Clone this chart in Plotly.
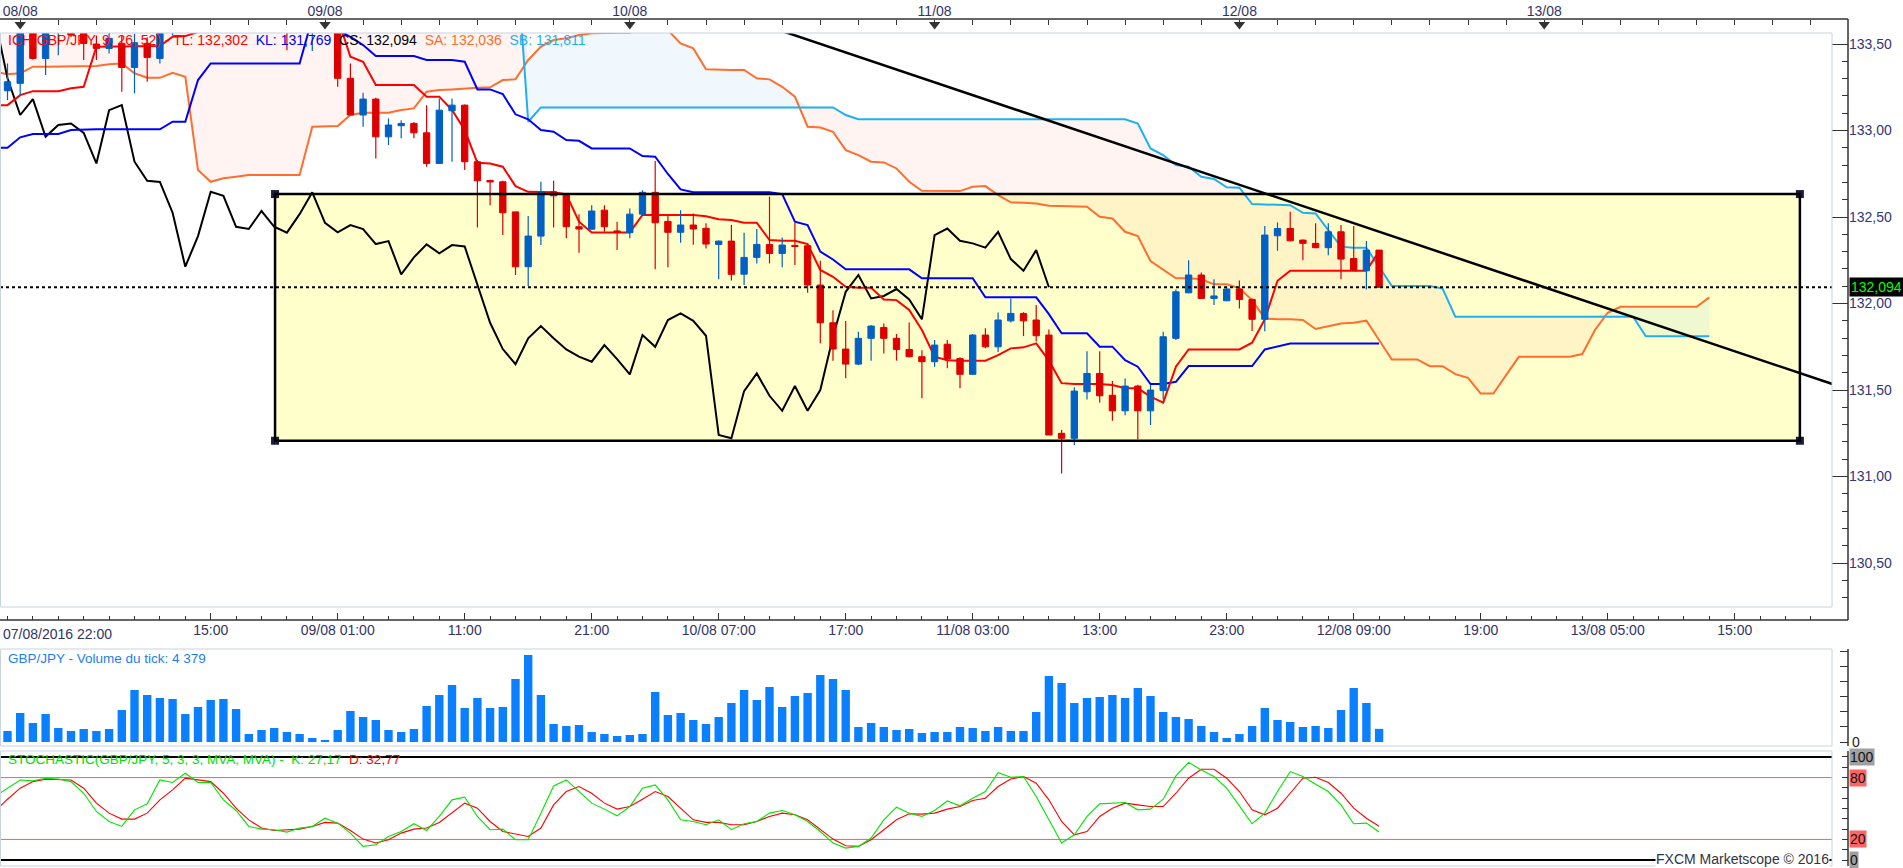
import pandas as pd
import plotly.graph_objects as go

W, H = 1903, 868
FONT = "Liberation Sans, Arial, sans-serif"

# GBP/JPY hourly bars, 07/08/2016 22:00 -> 12/08/2016 11:00
bar_times = pd.date_range("2016-08-07 22:00", periods=110, freq="h")
# Senkou spans are projected 26 bars past the last candle
cloud_times = pd.date_range("2016-08-07 22:00", periods=136, freq="h")

opens = [133.40, 133.230, 133.273, 133.62, 133.417, 133.60, 133.65, 133.562, 133.50, 133.475, 133.504, 133.365, 133.504, 133.417,
         133.62, 133.70, 133.76, 133.85, 133.80, 133.88, 133.84, 133.78, 133.70, 133.64, 133.60, 133.60, 133.70,
         133.65, 133.302, 133.09, 133.182, 132.964, 133.028, 133.041, 132.987, 132.81, 133.114,
         133.147, 132.82, 132.712, 132.704, 132.53, 132.213, 132.39, 132.646, 132.63, 132.444,
         132.43, 132.54, 132.42, 132.41, 132.517, 132.643, 132.475, 132.412, 132.454, 132.435,
         132.342, 132.361, 132.17, 132.267, 132.342, 132.29, 132.336, 132.334, 132.107, 131.889,
         131.737, 131.65, 131.799, 131.862, 131.799, 131.735, 131.693, 131.664, 131.765, 131.682,
         131.591, 131.818, 131.75, 131.90, 131.943, 131.905, 131.818, 131.25, 131.221, 131.49,
         131.596, 131.47, 131.38, 131.523, 131.38, 131.497, 131.799, 132.062, 132.165, 132.03,
         132.016, 132.084, 132.024, 131.909, 132.392, 132.434, 132.367, 132.348, 132.323, 132.415,
         132.26, 132.19, 132.309]
highs = [133.45, 133.388, 133.66, 133.66, 133.64, 133.68, 133.68, 133.60, 133.55, 133.58, 133.55, 133.56, 133.54, 133.60,
         133.78, 133.82, 133.90, 133.95, 133.92, 134.00, 133.93, 133.86, 133.78, 133.72, 133.70, 133.75, 133.78,
         133.68, 133.388, 133.219, 133.19, 133.07, 133.06, 133.05, 133.147, 133.186, 133.186,
         133.15, 132.83, 132.715, 132.71, 132.53, 132.506, 132.704, 132.71, 132.635, 132.517,
         132.569, 132.569, 132.473, 132.55, 132.655, 132.824, 132.506, 132.54, 132.52, 132.464,
         132.365, 132.454, 132.409, 132.431, 132.618, 132.382, 132.467, 132.335, 132.248, 131.962,
         131.899, 131.837, 131.875, 131.885, 131.824, 131.89, 131.73, 131.789, 131.79, 131.69,
         131.824, 131.857, 131.949, 132.03, 131.95, 131.991, 131.85, 131.27, 131.516, 131.725,
         131.725, 131.552, 131.567, 131.53, 131.529, 131.837, 132.082, 132.251, 132.18, 132.14,
         132.10, 132.133, 132.03, 132.448, 132.469, 132.531, 132.37, 132.464, 132.464, 132.454,
         132.448, 132.361, 132.31]
lows = [133.20, 133.176, 133.205, 133.41, 133.321, 133.436, 133.54, 133.408, 133.408, 133.446, 133.224, 133.215, 133.282, 133.388,
        133.55, 133.62, 133.70, 133.78, 133.74, 133.80, 133.75, 133.66, 133.58, 133.465, 133.58, 133.46, 133.58,
        133.253, 133.09, 133.022, 132.839, 132.916, 132.955, 132.955, 132.791, 132.81, 132.82,
        132.772, 132.44, 132.569, 132.396, 132.165, 132.101, 132.338, 132.44, 132.377, 132.294,
        132.43, 132.415, 132.309, 132.377, 132.51, 132.198, 132.21, 132.352, 132.34, 132.319,
        132.14, 132.133, 132.107, 132.232, 132.232, 132.21, 132.223, 132.063, 131.77, 131.67,
        131.568, 131.645, 131.67, 131.712, 131.67, 131.69, 131.452, 131.635, 131.626, 131.51,
        131.59, 131.741, 131.72, 131.89, 131.812, 131.78, 131.24, 131.018, 131.182, 131.446,
        131.427, 131.323, 131.355, 131.215, 131.298, 131.446, 131.79, 132.06, 132.03, 131.991,
        132.016, 131.972, 131.841, 131.84, 132.305, 132.36, 132.251, 132.32, 132.28, 132.14,
        132.19, 132.082, 132.094]
closes = [133.23, 133.282, 133.60, 133.417, 133.60, 133.65, 133.552, 133.504, 133.475, 133.533, 133.365, 133.508, 133.423, 133.562,
          133.70, 133.76, 133.85, 133.80, 133.88, 133.84, 133.78, 133.70, 133.64, 133.60, 133.66, 133.70, 133.65,
          133.302, 133.09, 133.182, 132.964, 133.032, 133.041, 132.987, 132.81, 133.118, 133.147,
          132.82, 132.71, 132.703, 132.525, 132.213, 132.39, 132.646, 132.623, 132.444, 132.431,
          132.535, 132.444, 132.41, 132.517, 132.643, 132.467, 132.412, 132.454, 132.431, 132.344,
          132.361, 132.169, 132.267, 132.342, 132.29, 132.338, 132.33, 132.107, 131.889, 131.737,
          131.65, 131.799, 131.87, 131.799, 131.735, 131.693, 131.664, 131.76, 131.679, 131.591,
          131.818, 131.75, 131.905, 131.943, 131.90, 131.814, 131.24, 131.221, 131.494, 131.596,
          131.467, 131.38, 131.523, 131.38, 131.50, 131.808, 132.068, 132.165, 132.03, 132.044,
          132.084, 132.024, 131.909, 132.396, 132.434, 132.363, 132.348, 132.323, 132.415, 132.257,
          132.19, 132.309, 132.094]

# Ichimoku(9, 26, 52) lines as drawn
tenkan = [133.147, 133.147, 133.205, 133.228, 133.228, 133.228, 133.244, 133.253, 133.485, 133.485, 133.485, 133.489, 133.489, 133.489,
          133.542, 133.546, 133.57, 133.60, 133.60, 133.60, 133.60, 133.60, 133.60, 133.60, 133.62, 133.65, 133.65,
          133.65, 133.427, 133.398, 133.263, 133.263, 133.263, 133.263, 133.196, 133.196, 133.119,
          133.003, 132.814, 132.810, 132.791, 132.679, 132.646, 132.646, 132.643, 132.631, 132.473,
          132.411, 132.411, 132.411, 132.411, 132.512, 132.512, 132.512, 132.512, 132.512, 132.505,
          132.487, 132.483, 132.467, 132.467, 132.367, 132.363, 132.363, 132.344, 132.194, 132.155,
          132.097, 132.092, 132.092, 132.024, 132.020, 131.963, 131.847, 131.693, 131.673, 131.670,
          131.670, 131.670, 131.702, 131.741, 131.747, 131.770, 131.670, 131.540, 131.535, 131.535,
          131.535, 131.529, 131.510, 131.510, 131.462, 131.427, 131.635, 131.735, 131.735, 131.735,
          131.735, 131.735, 131.774, 131.909, 132.132, 132.190, 132.190, 132.190, 132.190, 132.190,
          132.190, 132.190, 132.302]
kijun = [132.901, 132.901, 132.961, 132.980, 132.980, 132.980, 133.003, 133.007, 133.007, 133.007, 133.007, 133.007, 133.007, 133.007,
         133.051, 133.051, 133.292, 133.388, 133.388, 133.388, 133.388, 133.388, 133.388, 133.388, 133.388, 133.65, 133.65,
         133.58, 133.542, 133.494, 133.431, 133.431, 133.431, 133.431, 133.408, 133.408, 133.408,
         133.398, 133.238, 133.238, 133.211, 133.094, 133.065, 133.003, 132.993, 132.945, 132.941,
         132.897, 132.897, 132.897, 132.897, 132.853, 132.849, 132.749, 132.660, 132.643, 132.643,
         132.643, 132.643, 132.643, 132.643, 132.643, 132.633, 132.473, 132.454, 132.300, 132.255,
         132.198, 132.198, 132.198, 132.198, 132.198, 132.198, 132.146, 132.146, 132.146, 132.146,
         132.146, 132.036, 132.036, 132.036, 132.036, 132.036, 131.939, 131.828, 131.828, 131.828,
         131.751, 131.751, 131.673, 131.635, 131.535, 131.535, 131.548, 131.639, 131.639, 131.639,
         131.639, 131.639, 131.639, 131.735, 131.751, 131.769, 131.769, 131.769, 131.769, 131.769,
         131.769, 131.769, 131.769]
senkou_a = [133.34, 133.325, 133.331, 133.369, 133.369, 133.369, 133.369, 133.369, 133.373, 133.383, 133.388, 133.331, 133.305, 133.305,
            133.334, 133.311, 132.772, 132.704, 132.724, 132.733, 132.743, 132.743, 132.743, 132.743, 132.743, 133.022, 133.026,
            133.026, 133.090, 133.103, 133.103, 133.103, 133.119, 133.128, 133.225, 133.234, 133.238,
            133.244, 133.248, 133.250, 133.292, 133.296, 133.408, 133.485, 133.523, 133.533, 133.552,
            133.562, 133.566, 133.566, 133.566, 133.60, 133.61, 133.58, 133.504, 133.475, 133.354,
            133.350, 133.350, 133.350, 133.302, 133.296, 133.253, 133.196, 133.022, 133.018, 132.993,
            132.887, 132.858, 132.820, 132.816, 132.781, 132.704, 132.652, 132.650, 132.650, 132.650,
            132.675, 132.679, 132.627, 132.585, 132.583, 132.579, 132.566, 132.564, 132.560, 132.560,
            132.502, 132.492, 132.415, 132.390, 132.246, 132.198, 132.146, 132.146, 132.140, 132.111,
            132.111, 132.088, 132.020, 131.914, 131.909, 131.909, 131.905, 131.853, 131.870, 131.885,
            131.889, 131.901, 131.789, 131.677, 131.677, 131.677, 131.638, 131.638, 131.592, 131.571,
            131.480, 131.480, 131.586, 131.692, 131.692, 131.692, 131.692, 131.692, 131.708, 131.847,
            131.947, 131.981, 131.981, 131.981, 131.981, 131.981, 131.981, 131.981, 132.036]
senkou_b = [134.10, 134.10, 134.10, 134.10, 134.10, 134.10, 134.10, 134.10, 134.10, 134.10, 134.10, 134.10, 134.10, 134.10,
            134.10, 134.10, 134.10, 134.10, 134.10, 134.10, 134.10, 134.10, 134.10, 134.10, 134.10, 134.10, 134.10,
            134.10, 134.10, 134.10, 134.10, 134.10, 134.10, 134.10, 134.10, 134.10, 134.10,
            134.10, 134.10, 134.10, 134.10, 134.10, 133.051, 133.134, 133.134, 133.134, 133.134,
            133.134, 133.134, 133.134, 133.134, 133.134, 133.134, 133.134, 133.134, 133.134, 133.134,
            133.134, 133.134, 133.134, 133.134, 133.134, 133.134, 133.134, 133.134, 133.134, 133.134,
            133.090, 133.065, 133.065, 133.065, 133.065, 133.065, 133.065, 133.065, 133.065, 133.065,
            133.065, 133.065, 133.065, 133.065, 133.065, 133.065, 133.065, 133.065, 133.065, 133.065,
            133.065, 133.065, 133.065, 133.041, 132.897, 132.858, 132.801, 132.791, 132.733, 132.720,
            132.672, 132.670, 132.575, 132.573, 132.573, 132.569, 132.525, 132.521, 132.425, 132.329,
            132.323, 132.323, 132.213, 132.101, 132.101, 132.101, 132.101, 132.087, 131.924, 131.924,
            131.924, 131.924, 131.924, 131.924, 131.924, 131.924, 131.924, 131.924, 131.924, 131.924,
            131.924, 131.924, 131.924, 131.811, 131.811, 131.811, 131.811, 131.811, 131.811]

volumes = [4000, 3663, 9657, 6327, 9324, 4662, 3663, 4329, 3663, 4329, 10656, 17316, 15651, 14652,
           14319, 9324, 11655, 13986, 14319, 10989, 2664, 3996, 4662, 3330, 2664, 1332, 666,
           3996, 10323, 8325, 7326, 3996, 3330, 4329, 11988, 15651, 18981,
           11322, 14652, 11322, 11655, 20979, 28971, 15651, 5994, 5328, 5661,
           3330, 2664, 1998, 2331, 2664, 16650, 8991, 9657, 7326, 5994,
           8325, 12987, 17316, 13986, 18315, 11655, 15318, 16317, 22311, 20979,
           17316, 4995, 6327, 4995, 3996, 4329, 2997, 3330, 3330, 4995,
           4662, 3663, 4995, 3663, 3663, 9990, 21978, 19647, 12987, 14652,
           14985, 15651, 14652, 17982, 15318, 9990, 8325, 7659, 5328, 3330,
           1332, 2664, 5328, 11322, 7326, 6660, 4995, 5328, 4662, 10656,
           17982, 12987, 4379]

stoch_k = [61.6, 69.7, 77.7, 76.8, 79.4, 78.7, 76.1, 64.8, 47.1, 37.4, 32.6, 48.7, 54.5, 77.7,
           75.2, 84.2, 75.2, 75.2, 58.4, 48.1, 32.6, 30.0, 29.4, 27.1, 31.0, 32.6, 40.6,
           35.8, 26.1, 13.2, 14.8, 22.9, 27.7, 35.2, 28.7, 42.3, 58.4,
           61.0, 42.3, 29.4, 30.0, 19.7, 19.7, 45.5, 71.9, 77.7, 66.5,
           55.2, 49.4, 42.9, 51.9, 69.7, 72.9, 58.4, 39.0, 37.4, 34.2,
           39.0, 29.4, 35.2, 37.4, 45.5, 48.1, 43.9, 37.4, 27.7, 16.5,
           11.6, 13.2, 21.3, 39.0, 51.3, 45.5, 42.3, 48.1, 57.3, 52.6,
           60.0, 66.5, 84.8, 80.3, 81.0, 61.6, 39.0, 16.5, 24.5, 42.3,
           54.5, 55.2, 55.8, 48.7, 49.4, 59.0, 81.6, 94.8, 87.4, 81.0,
           69.7, 52.6, 35.2, 45.5, 66.5, 85.8, 81.0, 73.5, 66.5, 53.5,
           35.2, 35.8, 27.17]
stoch_d = [47.0, 59.0, 69.7, 76.1, 78.4, 78.4, 77.7, 69.7, 55.2, 45.5, 39.7, 39.7, 45.5, 58.4,
           68.1, 79.4, 77.7, 76.1, 64.8, 50.3, 39.0, 31.0, 28.7, 29.4, 30.0, 32.6, 36.5,
           35.8, 28.7, 20.3, 16.5, 19.7, 26.1, 30.0, 31.0, 36.5, 45.5,
           55.2, 50.3, 37.4, 27.7, 25.5, 22.9, 31.0, 53.5, 66.5, 71.3,
           64.8, 55.2, 49.4, 51.9, 59.0, 66.5, 61.6, 50.3, 39.0, 36.5,
           36.5, 34.2, 34.2, 37.4, 42.3, 45.5, 43.9, 39.0, 29.4, 20.3,
           13.9, 13.2, 19.7, 29.4, 39.0, 44.8, 44.5, 45.5, 49.4, 51.9,
           57.7, 60.0, 71.3, 78.7, 81.0, 74.5, 58.4, 37.4, 24.5, 27.7,
           42.3, 50.3, 55.2, 53.5, 51.9, 51.9, 64.8, 79.4, 88.1, 88.1,
           79.4, 66.5, 48.7, 43.9, 50.3, 64.8, 79.4, 80.3, 75.2, 64.8,
           50.3, 40.6, 32.77]
stoch_levels = [100, 80, 20, 0]

# drawing objects placed on the chart
box_times = [pd.Timestamp("2016-08-08 20:04"), pd.Timestamp("2016-08-13 20:08")]
box_prices = [131.207, 132.633]
trend_times = [pd.Timestamp("2016-08-10 06:00"), pd.Timestamp("2016-08-14 02:00")]
trend_prices = [133.723, 131.453]

# axis labels
day_ticks = pd.date_range("2016-08-08", periods=6, freq="D")
day_labels = ["08/08", "09/08", "10/08", "11/08", "12/08", "13/08"]
time_ticks = pd.to_datetime(["2016-08-08 05:00", "2016-08-08 15:00", "2016-08-09 01:00", "2016-08-09 11:00",
                             "2016-08-09 21:00", "2016-08-10 07:00", "2016-08-10 17:00", "2016-08-11 03:00",
                             "2016-08-11 13:00", "2016-08-11 23:00", "2016-08-12 09:00", "2016-08-12 19:00",
                             "2016-08-13 05:00", "2016-08-13 15:00"])
time_labels = ["", "15:00", "09/08 01:00", "11:00", "21:00", "10/08 07:00", "17:00", "11/08 03:00",
               "13:00", "23:00", "12/08 09:00", "19:00", "13/08 05:00", "15:00"]
first_time_label = "07/08/2016 22:00"


def comma(v, nd):
    return f"{v:.{nd}f}".replace(".", ",")


# pixel layout of the reference screen
def px_x(p):
    return p / W


def px_y(p):
    return 1 - p / H


PLOT_R, AXIS_X = 1832, 1848
origin = pd.Timestamp("2016-08-09 00:00")
hour_px, origin_px = 12.7, 325
x_range = [origin + pd.Timedelta(hours=-origin_px / hour_px),
           origin + pd.Timedelta(hours=(PLOT_R - origin_px) / hour_px)]

UP, DOWN = "#0060C4", "#DD0000"
fig = go.Figure()

# cloud fills
cloud_top = [max(a, b) for a, b in zip(senkou_a, senkou_b)]
fig.add_trace(go.Scatter(x=cloud_times, y=senkou_a, mode="lines", line=dict(width=0), hoverinfo="skip"))
fig.add_trace(go.Scatter(x=cloud_times, y=cloud_top, mode="lines", line=dict(width=0), fill="tonexty",
                         fillcolor="rgba(255,190,170,0.17)", hoverinfo="skip"))
fig.add_trace(go.Scatter(x=cloud_times, y=senkou_b, mode="lines", line=dict(width=0), hoverinfo="skip"))
fig.add_trace(go.Scatter(x=cloud_times, y=cloud_top, mode="lines", line=dict(width=0), fill="tonexty",
                         fillcolor="rgba(120,190,235,0.11)", hoverinfo="skip"))

fig.add_trace(go.Scatter(x=cloud_times, y=senkou_a, mode="lines", line=dict(color="#FF6E2E", width=2)))
fig.add_trace(go.Scatter(x=cloud_times, y=senkou_b, mode="lines", line=dict(color="#1EB0F0", width=2)))
chikou_times = bar_times - pd.Timedelta(hours=26)
fig.add_trace(go.Scatter(x=chikou_times, y=closes, mode="lines", line=dict(color="black", width=2)))
fig.add_trace(go.Scatter(x=bar_times, y=kijun, mode="lines", line=dict(color="#0000FF", width=2)))
fig.add_trace(go.Scatter(x=bar_times, y=tenkan, mode="lines", line=dict(color="#FF0000", width=2)))

# candles
half = pd.Timedelta(minutes=15)
for rising, color in [(True, UP), (False, DOWN)]:
    bx, by, wx, wy = [], [], [], []
    for t, o, hi, lo, c in zip(bar_times, opens, highs, lows, closes):
        if (c >= o) != rising:
            continue
        wx += [t, t, None]
        wy += [lo, hi, None]
        bx += [t - half, t + half, t + half, t - half, t - half, None]
        by += [o, o, c, c, o, None]
    fig.add_trace(go.Scatter(x=wx, y=wy, mode="lines", line=dict(color=color, width=1.2)))
    fig.add_trace(go.Scatter(x=bx, y=by, mode="lines", fill="toself", fillcolor=color,
                             line=dict(color=color, width=1)))

fig.add_trace(go.Scatter(x=trend_times, y=trend_prices, mode="lines", line=dict(color="black", width=2.5)))
fig.add_trace(go.Scatter(x=[box_times[0], box_times[1], box_times[0], box_times[1]],
                         y=[box_prices[1], box_prices[1], box_prices[0], box_prices[0]],
                         mode="markers", marker=dict(symbol="square", size=8, color="#1C1C3C")))

# volume
fig.add_trace(go.Bar(x=bar_times, y=volumes, width=0.66 * 3600000, marker=dict(color="#0A80FF", line=dict(width=0)),
                     xaxis="x", yaxis="y2"))

# stochastic
fig.add_trace(go.Scatter(x=bar_times, y=stoch_d, mode="lines", line=dict(color="#FF0000", width=1.1),
                         xaxis="x", yaxis="y3"))
fig.add_trace(go.Scatter(x=bar_times, y=stoch_k, mode="lines", line=dict(color="#00E600", width=1.1),
                         xaxis="x", yaxis="y3"))

# day markers on the top axis
fig.add_trace(go.Scatter(x=day_ticks, y=[0.6] * len(day_ticks), mode="markers",
                         marker=dict(symbol="triangle-down", size=10, color="#333333"),
                         xaxis="x2", yaxis="y4"))

shapes = [
    dict(type="rect", xref="x", yref="y", x0=box_times[0], x1=box_times[1], y0=box_prices[0], y1=box_prices[1],
         fillcolor="#FFFFCC", line=dict(width=0), layer="below"),
    dict(type="rect", xref="x", yref="y", x0=box_times[0], x1=box_times[1], y0=box_prices[0], y1=box_prices[1],
         fillcolor="rgba(0,0,0,0)", line=dict(color="black", width=2.5), layer="above"),
    dict(type="line", xref="paper", yref="y", x0=0, x1=px_x(PLOT_R), y0=closes[-1], y1=closes[-1],
         line=dict(color="black", width=2, dash="dot"), layer="above"),
]
border = "#C8D3E0"
for top, bot in [(33, 607), (649, 746), (751, 866)]:
    shapes.append(dict(type="rect", xref="paper", yref="paper", x0=px_x(0.5), x1=px_x(PLOT_R),
                       y0=px_y(bot), y1=px_y(top), line=dict(color=border, width=1), layer="above"))
axis_col = "#333333"
for x0, y0, x1, y1 in [(0, 19, AXIS_X, 19), (AXIS_X, 19, AXIS_X, 620), (0, 620, AXIS_X, 620),
                       (AXIS_X, 649, AXIS_X, 746), (AXIS_X, 751, AXIS_X, 866)]:
    shapes.append(dict(type="line", xref="paper", yref="paper", x0=px_x(x0), x1=px_x(x1),
                       y0=px_y(y0), y1=px_y(y1), line=dict(color=axis_col, width=1.5)))
for lvl in stoch_levels:
    edge = lvl in (0, 100)
    shapes.append(dict(type="line", xref="paper", yref="y3", x0=0, x1=px_x(PLOT_R), y0=lvl, y1=lvl,
                       line=dict(color="black" if edge else "#FF5A5A", width=2 if edge else 1), layer="below"))

legend_txt = (f"<span style='color:#FF0000'>ICH(GBP/JPY, 9, 26, 52) - TL: {comma(tenkan[-1], 3)}</span>&nbsp; "
              f"<span style='color:#0000FF'>KL: {comma(kijun[-1], 3)}</span>&nbsp; "
              f"<span style='color:#000000'>CS: {comma(closes[-1], 3)}</span>&nbsp; "
              f"<span style='color:#FF6E2E'>SA: {comma(senkou_a[-1], 3)}</span>&nbsp; "
              f"<span style='color:#1EB0F0'>SB: {comma(senkou_b[-1], 3)}</span>")
vol_txt = f"GBP/JPY - Volume du tick: {volumes[-1]:,}".replace(",", " ")
stoch_txt = (f"<span style='color:#00DD00'>STOCHASTIC(GBP/JPY, 5, 3, 3, MVA, MVA) -&nbsp; K: {comma(stoch_k[-1], 2)}</span>"
             f"<span style='color:#FF0000'>&nbsp; D: {comma(stoch_d[-1], 2)}</span>")

annotations = [
    dict(text=legend_txt, xref="paper", yref="paper", x=px_x(6), y=px_y(40), xanchor="left", yanchor="middle",
         showarrow=False, font=dict(size=14)),
    dict(text=vol_txt, xref="paper", yref="paper", x=px_x(6), y=px_y(658), xanchor="left", yanchor="middle",
         showarrow=False, font=dict(size=13.5, color="#1E7EF0")),
    dict(text=stoch_txt, xref="paper", yref="paper", x=px_x(6), y=px_y(759), xanchor="left", yanchor="middle",
         showarrow=False, font=dict(size=13.5)),
    dict(text="FXCM Marketscope © 2016", xref="paper", yref="paper", x=px_x(1830), y=px_y(859),
         xanchor="right", yanchor="middle", showarrow=False, bgcolor="white", borderpad=0,
         font=dict(size=14, color="#333344")),
    dict(text=comma(closes[-1], 3), xref="paper", yref="y", x=px_x(AXIS_X + 1), y=closes[-1], xanchor="left",
         yanchor="middle", showarrow=False, bgcolor="black", borderpad=1, font=dict(size=14, color="#00FF00")),
    dict(text="0", xref="paper", yref="y2", x=px_x(AXIS_X + 2), y=0, xanchor="left", yanchor="middle",
         showarrow=False, font=dict(size=14, color="#222222")),
    dict(text=first_time_label, xref="paper", yref="paper", x=px_x(1), y=px_y(634), xanchor="left",
         yanchor="middle", showarrow=False, font=dict(size=14, color="#333366")),
]
level_bg = {100: "#A0A0A0", 80: "#FF6464", 20: "#FF6464", 0: "#A0A0A0"}
for lvl in stoch_levels:
    annotations.append(dict(text=str(lvl), xref="paper", yref="y3", x=px_x(AXIS_X + 1), y=lvl, xanchor="left",
                            yanchor="middle", showarrow=False, bgcolor=level_bg[lvl], borderpad=0,
                            font=dict(size=14, color="#111111")))

top_ticks = pd.date_range("2016-08-08 00:00", "2016-08-13 21:00", freq="3h")
top_text = [day_labels[list(day_ticks).index(t)] if t in set(day_ticks) else "" for t in top_ticks]
minor_ticks = pd.date_range("2016-08-07 23:00", "2016-08-13 21:00", freq="2h")
tick_font = dict(size=14, color="#35357A")

fig.update_layout(
    width=W, height=H, autosize=False, margin=dict(l=0, r=0, t=0, b=0),
    paper_bgcolor="white", plot_bgcolor="white", showlegend=False, hovermode=False,
    separators=", ", font=dict(family=FONT, color="#333333"), barmode="overlay",
    xaxis=dict(type="date", domain=[0, px_x(PLOT_R)], range=x_range, anchor="free", position=px_y(620),
               tickmode="array", tickvals=time_ticks, ticktext=time_labels, ticks="inside", ticklen=7,
               tickcolor=axis_col, tickfont=dict(size=14, color="#333366"), showgrid=False, showline=False,
               zeroline=False, automargin=False,
               minor=dict(tickmode="array", tickvals=minor_ticks, ticks="inside", ticklen=4, tickcolor=axis_col)),
    xaxis2=dict(type="date", overlaying="x", range=x_range, side="top", anchor="free", position=px_y(19),
                tickmode="array", tickvals=top_ticks, ticktext=top_text, ticks="inside", ticklen=5,
                tickcolor=axis_col, tickfont=dict(size=14, color="#333366"), showgrid=False, showline=False,
                zeroline=False, automargin=False),
    yaxis=dict(domain=[px_y(607), px_y(33)], range=[130.246, 133.564], anchor="free", position=px_x(AXIS_X),
               side="right", tick0=0, dtick=0.5, tickformat=".2f", ticks="inside", ticklen=16, tickcolor=axis_col,
               tickfont=tick_font, showgrid=False, zeroline=False, showline=False, automargin=False,
               minor=dict(dtick=0.1, ticks="inside", ticklen=6, tickcolor=axis_col)),
    yaxis2=dict(domain=[px_y(746), px_y(649)], range=[-1330, 30970], anchor="free", position=px_x(AXIS_X),
                side="right", tick0=0, dtick=5000, ticks="inside", ticklen=8, tickcolor=axis_col,
                showticklabels=False, showgrid=False, zeroline=False, showline=False, automargin=False),
    yaxis3=dict(domain=[px_y(866), px_y(751)], range=[-5.8, 105.8], anchor="free", position=px_x(AXIS_X),
                side="right", tick0=0, dtick=10, ticks="inside", ticklen=6, tickcolor=axis_col,
                showticklabels=False, showgrid=False, zeroline=False, showline=False, automargin=False),
    yaxis4=dict(domain=[px_y(33), px_y(19)], range=[0, 1], anchor="x2", visible=False),
    shapes=shapes, annotations=annotations,
)

fig.write_html("out.html", config={"displayModeBar": False},
               post_script="document.body.style.margin='0';document.body.style.overflow='hidden';")
